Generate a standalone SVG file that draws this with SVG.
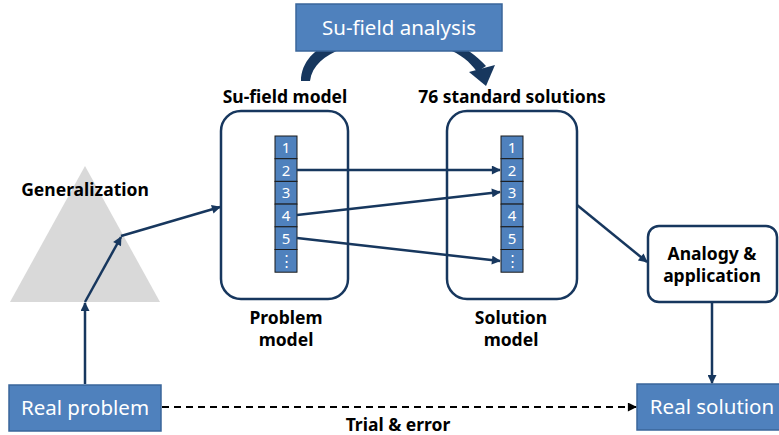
<svg xmlns="http://www.w3.org/2000/svg" width="779" height="435" viewBox="0 0 779 435">
<defs>
<style>
.blue{fill:#4F81BD;stroke:#3A669A;stroke-width:1.5}
.wt{fill:#fff;font-family:"Noto Sans","Open Sans",sans-serif;font-size:20.5px}
.bt{fill:#000;font-family:"Noto Sans","Open Sans",sans-serif;font-size:17.5px;font-weight:bold}
.box{fill:#fff;stroke:#17375E;stroke-width:2.5}
.cell{fill:#4F81BD;stroke:#1a1a1a;stroke-width:1}
.num{fill:#fff;font-family:"Noto Sans","Open Sans",sans-serif;font-size:15px;text-anchor:middle}
.ln{fill:none;stroke:#17375E;stroke-width:2.5}
</style>
<marker id="ah" viewBox="0 0 10 10" refX="9" refY="5" markerWidth="10" markerHeight="9" markerUnits="userSpaceOnUse" orient="auto">
<path d="M0,0 L10,5 L0,10 z" fill="#17375E"/>
</marker>
<marker id="ahk" viewBox="0 0 10 10" refX="9" refY="5" markerWidth="10" markerHeight="9" markerUnits="userSpaceOnUse" orient="auto">
<path d="M0,0 L10,5 L0,10 z" fill="#000"/>
</marker>
</defs>

<polygon id="triangle" points="85,166 160,302 10,302" fill="#D9D9D9"/>
<text class="bt" x="85" y="196" text-anchor="middle">Generalization</text>

<path id="curve" d="M301,81 C302,42 355,30 395,30 C438,30 468,46 486,66 L477,72 C464,52 436,40 395,40 C362,40 314,50 310,81 Z" fill="#17375E"/>
<polygon points="469,72 495,65 486,86" fill="#17375E"/>

<g id="su-field-analysis">
<rect class="blue" x="296" y="4" width="206" height="47"/>
<text class="wt" x="399" y="35" text-anchor="middle">Su-field analysis</text>
</g>

<text class="bt" x="285" y="103" text-anchor="middle">Su-field model</text>
<text class="bt" x="512" y="103" text-anchor="middle">76 standard solutions</text>

<g id="problem-model">
<rect class="box" x="221" y="111" width="127" height="188" rx="20"/>
<rect class="cell" x="275" y="136" width="22" height="22.7"/>
<rect class="cell" x="275" y="158.7" width="22" height="22.7"/>
<rect class="cell" x="275" y="181.4" width="22" height="22.7"/>
<rect class="cell" x="275" y="204.1" width="22" height="22.7"/>
<rect class="cell" x="275" y="226.8" width="22" height="22.7"/>
<rect class="cell" x="275" y="249.5" width="22" height="22.7"/>
<text class="num" x="286" y="153">1</text>
<text class="num" x="286" y="176">2</text>
<text class="num" x="286" y="198">3</text>
<text class="num" x="286" y="221">4</text>
<text class="num" x="286" y="244">5</text>
<text class="num" x="286" y="266">⋮</text>
<text class="bt" x="286" y="324" text-anchor="middle">Problem</text>
<text class="bt" x="286" y="346" text-anchor="middle">model</text>
</g>

<g id="solution-model">
<rect class="box" x="447" y="111" width="130" height="188" rx="20"/>
<rect class="cell" x="501" y="136" width="22" height="22.7"/>
<rect class="cell" x="501" y="158.7" width="22" height="22.7"/>
<rect class="cell" x="501" y="181.4" width="22" height="22.7"/>
<rect class="cell" x="501" y="204.1" width="22" height="22.7"/>
<rect class="cell" x="501" y="226.8" width="22" height="22.7"/>
<rect class="cell" x="501" y="249.5" width="22" height="22.7"/>
<text class="num" x="512" y="153">1</text>
<text class="num" x="512" y="176">2</text>
<text class="num" x="512" y="198">3</text>
<text class="num" x="512" y="221">4</text>
<text class="num" x="512" y="244">5</text>
<text class="num" x="512" y="266">⋮</text>
<text class="bt" x="511" y="324" text-anchor="middle">Solution</text>
<text class="bt" x="511" y="346" text-anchor="middle">model</text>
</g>

<g id="analogy">
<rect class="box" x="648" y="226" width="129" height="76" rx="11"/>
<text class="bt" x="712" y="260" text-anchor="middle">Analogy &amp;</text>
<text class="bt" x="712" y="282" text-anchor="middle">application</text>
</g>

<g id="real-problem">
<rect class="blue" x="9" y="385" width="152" height="46"/>
<text class="wt" x="85" y="415" text-anchor="middle">Real problem</text>
</g>

<g id="real-solution">
<rect class="blue" x="637" y="384" width="150" height="46"/>
<text class="wt" x="712" y="414" text-anchor="middle">Real solution</text>
</g>

<g id="connectors">
<line class="ln" x1="85" y1="384" x2="85" y2="303" marker-end="url(#ah)"/>
<line class="ln" x1="85" y1="302" x2="121" y2="237" marker-end="url(#ah)"/>
<line class="ln" x1="121" y1="236" x2="220" y2="207" marker-end="url(#ah)"/>
<line class="ln" x1="297" y1="170" x2="500" y2="170" marker-end="url(#ah)"/>
<line class="ln" x1="297" y1="215" x2="500" y2="192" marker-end="url(#ah)"/>
<line class="ln" x1="297" y1="238" x2="500" y2="261" marker-end="url(#ah)"/>
<line class="ln" x1="577" y1="205" x2="647" y2="262" marker-end="url(#ah)"/>
<line class="ln" x1="712" y1="302" x2="712" y2="383" marker-end="url(#ah)"/>
<line x1="162" y1="407" x2="636" y2="407" stroke="#000" stroke-width="2" stroke-dasharray="7,5" marker-end="url(#ahk)"/>
<text class="bt" x="398" y="431" text-anchor="middle">Trial &amp; error</text>
</g>
</svg>
